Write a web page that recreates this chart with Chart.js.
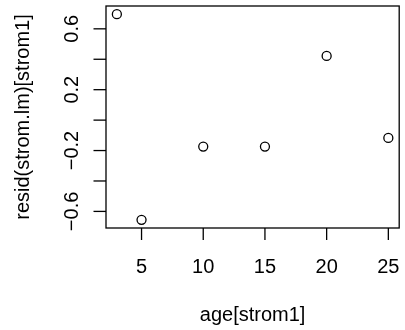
<!DOCTYPE html>
<html>
<head>
<meta charset="utf-8">
<script src="https://cdn.jsdelivr.net/npm/chart.js@4/dist/chart.umd.min.js"></script>
<style>
  html, body { margin: 0; padding: 0; background: #fff; }
  #wrap { width: 405px; height: 330px; position: relative; }
</style>
</head>
<body>
<div id="wrap"><canvas id="c"></canvas></div>
<script>
// data
const ages = [3, 5, 10, 15, 20, 25];
const resids = [0.696, -0.655, -0.174, -0.174, 0.422, -0.117];

const xTicks = [5, 10, 15, 20, 25];
const xTickLabels = ["5", "10", "15", "20", "25"];
const yTicks = [-0.6, -0.4, -0.2, 0, 0.2, 0.4, 0.6];
// R drops every other label when they would overlap
const yTickLabels = ["\u22120.6", "", "\u22120.2", "", "0.2", "", "0.6"];

const xTitle = "age[strom1]";
const yTitle = "resid(strom.lm)[strom1]";

// R pads the data range by 4% on each side
function rRange(vals) {
  let lo = Math.min(...vals), hi = Math.max(...vals);
  let d = (hi - lo) * 0.04;
  return [lo - d, hi + d];
}
const xr = rRange(ages);
const yr = rRange(resids);

const FONT = '20px "Liberation Sans", Arial, sans-serif';

const rAxes = {
  id: "rAxes",
  afterDraw(chart) {
    const ctx = chart.ctx;
    const a = chart.chartArea;
    const xs = chart.scales.x, ys = chart.scales.y;
    ctx.save();
    ctx.strokeStyle = "#000";
    ctx.fillStyle = "#000";
    ctx.lineWidth = 1.3;
    ctx.strokeRect(a.left, a.top, a.right - a.left, a.bottom - a.top);

    ctx.font = FONT;
    // x axis
    ctx.textAlign = "center";
    ctx.textBaseline = "alphabetic";
    xTicks.forEach((t, i) => {
      const px = xs.getPixelForValue(t);
      ctx.beginPath();
      ctx.moveTo(px, a.bottom);
      ctx.lineTo(px, a.bottom + 12);
      ctx.stroke();
      ctx.fillText(xTickLabels[i], px, 273);
    });
    ctx.fillText(xTitle, (a.left + a.right) / 2, 321);

    // y axis
    yTicks.forEach((t, i) => {
      const py = ys.getPixelForValue(t);
      ctx.beginPath();
      ctx.moveTo(a.left - 12.5, py);
      ctx.lineTo(a.left, py);
      ctx.stroke();
      if (yTickLabels[i]) {
        ctx.save();
        ctx.translate(78, py);
        ctx.rotate(-Math.PI / 2);
        ctx.fillText(yTickLabels[i], 0, 0);
        ctx.restore();
      }
    });
    ctx.save();
    ctx.translate(29, (a.top + a.bottom) / 2);
    ctx.rotate(-Math.PI / 2);
    ctx.fillText(yTitle, 0, 0);
    ctx.restore();

    ctx.restore();
  }
};

new Chart(document.getElementById("c"), {
  type: "scatter",
  data: {
    datasets: [{
      data: ages.map((a, i) => ({ x: a, y: resids[i] })),
      pointStyle: "circle",
      pointRadius: 4.5,
      pointBorderWidth: 1.3,
      pointBorderColor: "#000",
      pointBackgroundColor: "rgba(0,0,0,0)",
      clip: false
    }]
  },
  options: {
    responsive: true,
    maintainAspectRatio: false,
    animation: false,
    layout: { padding: { left: 106, top: 6, right: 3, bottom: 102 } },
    plugins: { legend: { display: false }, tooltip: { enabled: false } },
    scales: {
      x: { type: "linear", min: xr[0], max: xr[1], display: false },
      y: { type: "linear", min: yr[0], max: yr[1], display: false }
    }
  },
  plugins: [rAxes]
});
</script>
</body>
</html>
